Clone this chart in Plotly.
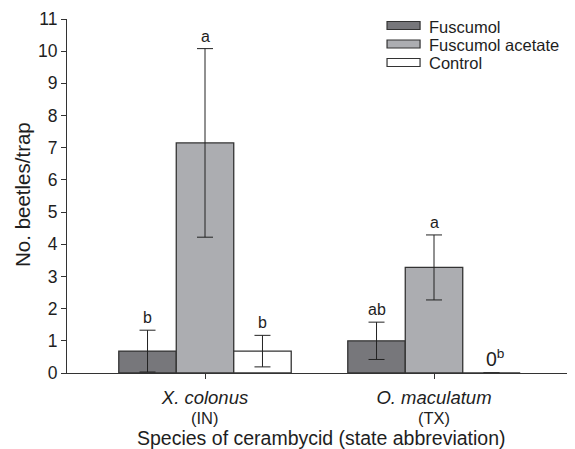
import plotly.graph_objects as go

groups = ["X. colonus", "O. maculatum"]
states = ["(IN)", "(TX)"]
series = ["Fuscumol", "Fuscumol acetate", "Control"]
means = {
    "Fuscumol": [0.68, 1.0],
    "Fuscumol acetate": [7.15, 3.28],
    "Control": [0.68, 0.0],
}
errs = {
    "Fuscumol": [0.65, 0.58],
    "Fuscumol acetate": [2.93, 1.01],
    "Control": [0.49, 0.0],
}
letters = {
    "Fuscumol": ["b", "ab"],
    "Fuscumol acetate": ["a", "a"],
    "Control": ["b", "0<sup>b</sup>"],
}
colors = {"Fuscumol": "#77777b", "Fuscumol acetate": "#acadb1", "Control": "#ffffff"}

bw = 0.251
offsets = [-bw, 0.0, bw]
font = "Liberation Sans, Arial, sans-serif"
txt = "#1e1e1e"
edge = "#333333"

fig = go.Figure()
ann = []
shapes = []
for s, off in zip(series, offsets):
    xs = [i + off for i in range(len(groups))]
    show_err = [e if m > 0 else 0 for m, e in zip(means[s], errs[s])]
    fig.add_trace(go.Bar(
        x=xs, y=means[s], width=bw, name=s, showlegend=False,
        marker=dict(color=colors[s], line=dict(color=edge, width=1.3)),
        error_y=dict(type="data", array=show_err, visible=True,
                     color="#222222", thickness=1, width=8),
    ))
    for x, m, e, lab in zip(xs, means[s], errs[s], letters[s]):
        if m > 0:
            ann.append(dict(x=x, y=m + e, text=lab, showarrow=False, xref="x", yref="y",
                            yanchor="bottom", yshift=2, font=dict(size=16, color=txt)))
        else:
            ann.append(dict(x=x, y=0, text=lab, showarrow=False, xref="x", yref="y",
                            xanchor="left", xshift=-7,
                            yanchor="bottom", yshift=1, font=dict(size=19.5, color=txt)))

# legend (swatches + labels)
sw_y = [0.9816, 0.9294, 0.8771]
tx_y = [0.9788, 0.9266, 0.8743]
for s, sy, ty in zip(series, sw_y, tx_y):
    shapes.append(dict(type="rect", xref="paper", yref="paper",
                       x0=0.630, x1=0.695, y0=sy - 0.0113, y1=sy + 0.0113,
                       fillcolor=colors[s], line=dict(color=edge, width=1.2)))
    ann.append(dict(x=0.709, y=ty, xref="paper", yref="paper", text=s, showarrow=False,
                    xanchor="left", yanchor="middle", font=dict(size=16.5, color=txt)))

for i, st in enumerate(states):
    ann.append(dict(x=i, y=-0.1266, xref="x", yref="paper", text=st, showarrow=False,
                    yanchor="middle", font=dict(size=16.5, color=txt)))
ann.append(dict(x=0.5, y=-0.1849, xref="paper", yref="paper",
                text="Species of cerambycid (state abbreviation)", showarrow=False,
                yanchor="middle", font=dict(size=19.5, color=txt)))
ann.append(dict(x=-0.0866, y=0.503, xref="paper", yref="paper", text="No. beetles/trap",
                textangle=-90, showarrow=False, xanchor="center", yanchor="middle",
                font=dict(size=20.5, color=txt)))

fig.update_layout(
    width=567, height=441,
    margin=dict(l=59, r=0, t=11, b=76),
    plot_bgcolor="white", paper_bgcolor="white",
    font=dict(family=font, color=txt),
    barmode="overlay",
    showlegend=False,
    annotations=ann,
    shapes=shapes,
)
fig.update_xaxes(
    range=[-0.6026, 1.6157], tickmode="array", tickvals=list(range(len(groups))),
    ticktext=[f"<i>{g}</i>" for g in groups],
    showline=True, linecolor=edge, linewidth=1.2, ticks="outside", ticklen=5,
    tickcolor=edge, tickfont=dict(size=18.5, color=txt), ticklabelstandoff=3,
    showgrid=False, zeroline=False,
)
fig.update_yaxes(
    range=[0, 11], dtick=1, showline=True, linecolor=edge, linewidth=1.2,
    ticks="outside", ticklen=5, tickcolor=edge, tickfont=dict(size=17.5, color=txt),
    showgrid=False, zeroline=False,
)
fig.write_html("out.html")
